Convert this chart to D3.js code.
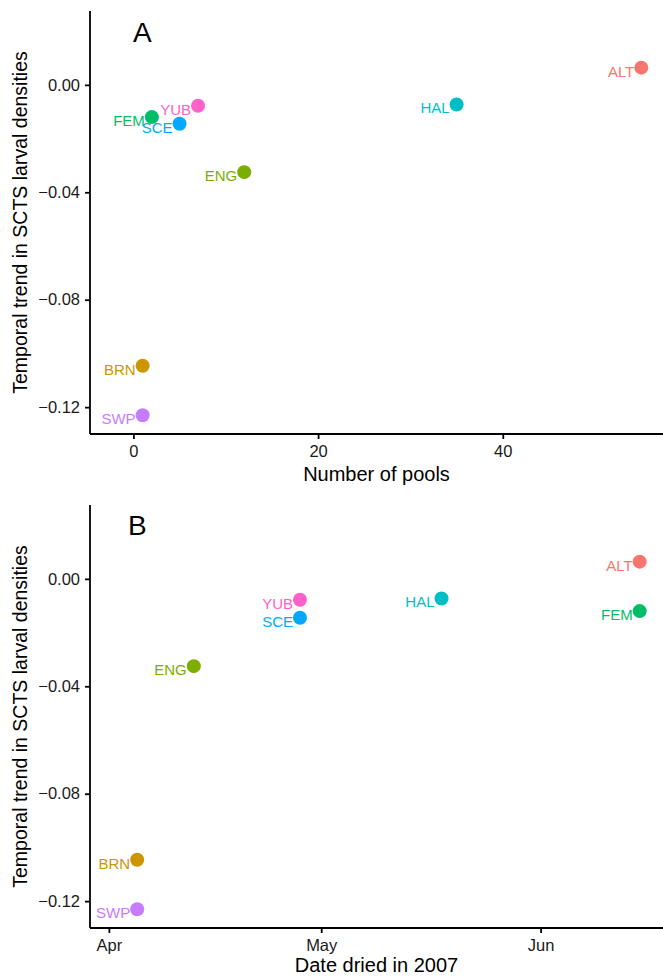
<!DOCTYPE html>
<html>
<head>
<meta charset="utf-8">
<script src="https://cdn.jsdelivr.net/npm/d3@7"></script>
<style>
  body { margin: 0; background: #fff; }
  text { font-family: "Liberation Sans", Arial, sans-serif; }
</style>
</head>
<body>
<div id="container"></div>
<script>
/* DATA */
const sites = ["ALT", "BRN", "ENG", "FEM", "HAL", "SCE", "SWP", "YUB"];
const pools = [55, 1, 12, 2, 35, 5, 1, 7];
const dryDates = ["2007-06-15", "2007-04-05", "2007-04-13", "2007-06-15", "2007-05-18", "2007-04-28", "2007-04-05", "2007-04-28"];
const trends = [0.0064, -0.1046, -0.0325, -0.0120, -0.0073, -0.0145, -0.1230, -0.0078];
const siteColors = ["#F8766D", "#CD9600", "#7CAE00", "#00BE67", "#00BFC4", "#00A9FF", "#C77CFF", "#FF61CC"];
const yTicks = [0, -0.04, -0.08, -0.12];
const poolTicks = [0, 20, 40];
const monthTicks = ["2007-04-01", "2007-05-01", "2007-06-01"];

/* CONSTANTS */
const width = 663, height = 977;
const left = 90, right = 663;
const parseDate = d3.timeParse("%Y-%m-%d");

const rows = sites.map((s, i) => ({
  site: s, pools: pools[i], date: parseDate(dryDates[i]), trend: trends[i], color: siteColors[i]
}));

const svg = d3.select("#container")
  .append("svg")
  .attr("width", width)
  .attr("height", height);

const yDomain = [-0.13, 0.0275];

function drawPanel(opts) {
  const g = svg.append("g");
  const y = d3.scaleLinear().domain(yDomain).range([opts.bottom, opts.top]);
  const x = opts.x;

  // y axis
  const yAxis = g.append("g")
    .attr("transform", `translate(${left},0)`)
    .call(d3.axisLeft(y).tickValues(yTicks).tickFormat(d3.format(".2f")).tickSize(5).tickPadding(5));
  // x axis
  const xAxis = g.append("g")
    .attr("transform", `translate(0,${opts.bottom})`)
    .call(d3.axisBottom(x).tickValues(opts.ticks).tickFormat(opts.fmt).tickSize(5).tickPadding(6));

  [yAxis, xAxis].forEach(a => {
    a.select(".domain").attr("stroke", "#000").attr("stroke-width", 1.8);
    a.selectAll(".tick line").attr("stroke", "#000").attr("stroke-width", 1.8);
    a.selectAll(".tick text").attr("fill", "#1a1a1a").style("font-size", "16.5px");
  });
  yAxis.select(".domain").attr("d", `M0,${opts.top}V${opts.bottom}`);
  xAxis.select(".domain").attr("d", `M${left},0H${right}`);

  // points
  g.selectAll("circle.site")
    .data(rows)
    .join("circle")
    .attr("class", "site")
    .attr("cx", d => x(opts.xv(d)))
    .attr("cy", d => y(d.trend))
    .attr("r", 7)
    .attr("fill", d => d.color);

  // labels
  g.selectAll("text.site")
    .data(rows)
    .join("text")
    .attr("class", "site")
    .attr("x", d => x(opts.xv(d)) - 7)
    .attr("y", d => y(d.trend) + 9)
    .attr("text-anchor", "end")
    .attr("fill", d => d.color)
    .style("font-size", "15px")
    .text(d => d.site);

  // panel letter
  g.append("text")
    .attr("x", opts.letterX)
    .attr("y", opts.letterY)
    .style("font-size", "28px")
    .attr("fill", "#000")
    .text(opts.letter);

  // axis titles
  g.append("text")
    .attr("x", (left + right) / 2)
    .attr("y", opts.titleY)
    .attr("text-anchor", "middle")
    .style("font-size", "20px")
    .text(opts.xTitle);

  g.append("text")
    .attr("transform", `translate(27,${(opts.top + opts.bottom) / 2}) rotate(-90)`)
    .attr("text-anchor", "middle")
    .style("font-size", "19.5px")
    .text("Temporal trend in SCTS larval densities");
}

// PANEL A: number of pools
drawPanel({
  top: 11, bottom: 434,
  x: d3.scaleLinear().domain([-4.7, 57.35]).range([left, right]),
  xv: d => d.pools,
  ticks: poolTicks,
  fmt: d3.format("d"),
  letter: "A", letterX: 133, letterY: 42,
  xTitle: "Number of pools", titleY: 481
});

// PANEL B: date dried
drawPanel({
  top: 505, bottom: 928,
  x: d3.scaleTime().domain([new Date(2007, 2, 29, 8), new Date(2007, 5, 18, 7)]).range([left, right]),
  xv: d => d.date,
  ticks: monthTicks.map(parseDate),
  fmt: d3.timeFormat("%b"),
  letter: "B", letterX: 128, letterY: 535,
  xTitle: "Date dried in 2007", titleY: 972
});
</script>
</body>
</html>
